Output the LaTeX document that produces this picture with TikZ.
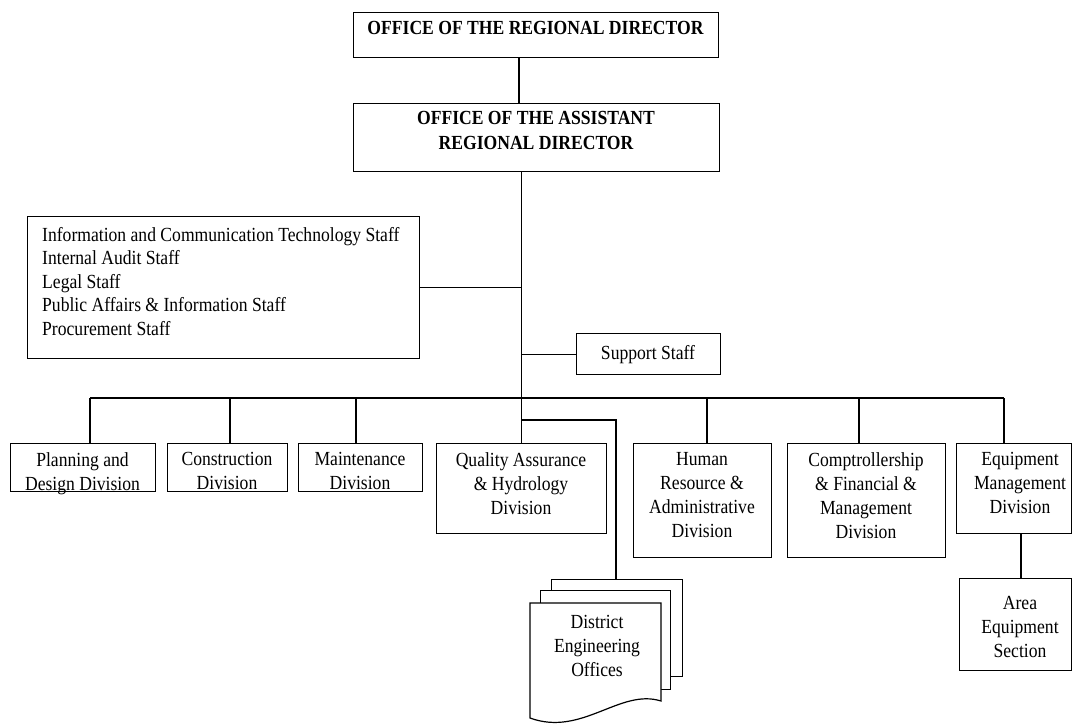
\documentclass[tikz,border=0pt]{standalone}
\usepackage{fontspec}
\setmainfont{Liberation Serif}[FakeStretch=0.88]
\begin{document}
\begin{tikzpicture}[x=1pt,y=-1pt,
  bx/.style={draw=black, line width=1.2pt, fill=white, inner sep=0pt, anchor=north west},
  tx/.style={inner sep=0pt, align=center, font=\fontsize{20}{24}\selectfont, anchor=north},
  ln/.style={draw=black, line width=1.2pt}]
\useasboundingbox (0,0) rectangle (1073,724);
% boxes
\node[bx, minimum width=365pt, minimum height=45pt] (rd) at (353,12) {};
\node[bx, minimum width=366pt, minimum height=68pt] (ard) at (353,103) {};
\node[bx, minimum width=392pt, minimum height=142pt] (staff) at (27,216) {};
\node[bx, minimum width=144pt, minimum height=41pt] (sup) at (576,333) {};
\node[bx, minimum width=145pt, minimum height=48pt] (pd) at (10,443) {};
\node[bx, minimum width=120pt, minimum height=48pt] (con) at (167,443) {};
\node[bx, minimum width=124pt, minimum height=48pt] (mai) at (298,443) {};
\node[bx, minimum width=170pt, minimum height=90pt] (qa) at (436,443) {};
\node[bx, minimum width=138pt, minimum height=114pt] (hr) at (633,443) {};
\node[bx, minimum width=158pt, minimum height=114pt] (cmp) at (787,443) {};
\node[bx, minimum width=115pt, minimum height=90pt] (em) at (956,443) {};
\node[bx, minimum width=112pt, minimum height=92pt] (area) at (959,578) {};
% district engineering offices stack
\node[bx, minimum width=131pt, minimum height=97pt] (deo3) at (551,579) {};
\node[bx, minimum width=130pt, minimum height=99pt] (deo2) at (540,590) {};
\draw[ln, fill=white] (530,603) -- (661,603) -- (661,701)
  .. controls (620,688) and (582,737) .. (530,718) -- cycle;
% coordinates
\coordinate (top) at (519,0);
\coordinate (bus) at (0,398);
\coordinate (d1) at (90,398);
\coordinate (d2) at (230,398);
\coordinate (d3) at (356,398);
\coordinate (d5) at (707,398);
\coordinate (d6) at (859,398);
\coordinate (d7) at (1004,398);
\coordinate (br) at (521,420);
\coordinate (dj) at (616,420);
\coordinate (ea) at (1021,0);
% connectors
\draw[ln] (top |- rd.south) -- (top |- ard.north);
\draw[ln] (ard.south -| qa.north) -- (qa.north);
\draw[ln] (staff.east) -- (staff.east -| qa.north);
\draw[ln] (sup.west) -- (sup.west -| qa.north);
\draw[ln] (d1) -- (d7);
\draw[ln] (d1) -- (d1 |- pd.north);
\draw[ln] (d2) -- (d2 |- con.north);
\draw[ln] (d3) -- (d3 |- mai.north);
\draw[ln] (d5) -- (d5 |- hr.north);
\draw[ln] (d6) -- (d6 |- cmp.north);
\draw[ln] (d7) -- (d7 |- em.north);
\draw[ln] (br) -- (dj) -- (dj |- deo3.north);
\draw[ln] (ea |- em.south) -- (ea |- area.north);
% texts
\node[tx, font=\bfseries\fontsize{20}{24}\selectfont] (rdt) at (535.5,21) {OFFICE OF THE REGIONAL DIRECTOR};
\node[tx, font=\bfseries\fontsize{20}{25}\selectfont] (ardt) at (536,111) {OFFICE OF THE ASSISTANT\\REGIONAL DIRECTOR};
\node[tx, anchor=north west, align=left, font=\fontsize{20}{23.5}\selectfont] (stafft) at (42,227)
  {Information and Communication Technology Staff\\Internal Audit Staff\\Legal Staff\\Public Affairs \& Information Staff\\Procurement Staff};
\node[tx, anchor=base] (supt) at (648,359.5) {Support Staff};
\node[tx] (pdt) at (82.5,452) {Planning and\\Design Division};
\node[tx] (cont) at (227,452) {Construction\\Division};
\node[tx] (mait) at (360,452) {Maintenance\\Division};
\node[tx] (qat) at (521,452) {Quality Assurance\\\& Hydrology\\Division};
\node[tx] (hrt) at (702,452) {Human\\Resource \&\\Administrative\\Division};
\node[tx] (cmpt) at (866,452) {Comptrollership\\\& Financial \&\\Management\\Division};
\node[tx] (emt) at (1020,452) {Equipment\\Management\\Division};
\node[tx] (areat) at (1020,596) {Area\\Equipment\\Section};
\node[tx] (deot) at (597,615) {District\\Engineering\\Offices};
\end{tikzpicture}
\end{document}
